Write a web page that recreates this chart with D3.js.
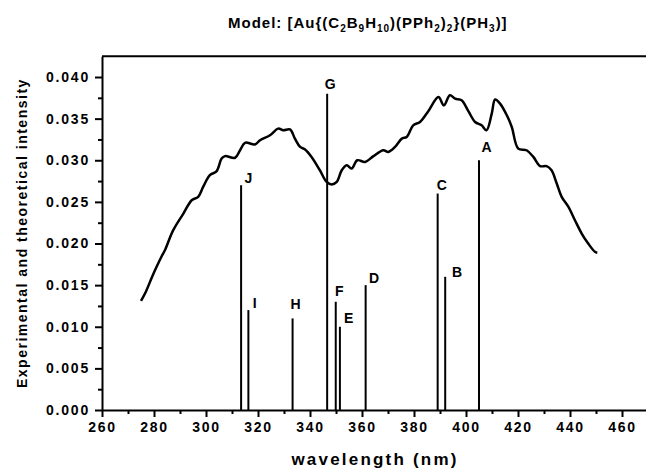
<!DOCTYPE html>
<html>
<head>
<style type="text/css">
body { margin: 0; background: #fff; }
svg text { font-family: "Liberation Sans", Arial, sans-serif; font-weight: bold; fill: #000; }
.axis path, .axis line { stroke: #000; stroke-width: 2; }
.tick text { font-size: 14px; letter-spacing: 1.8px; }
.curve { fill: none; stroke: #000; stroke-width: 2.5; stroke-linejoin: round; }
.bar { stroke: #000; stroke-width: 2; }
</style>
<script src="https://d3js.org/d3.v7.min.js"></script>
</head>
<body>
<script type="text/javascript">
// experimental spectrum
var curveWl  = [275.0, 277.0, 279.0, 281.0, 283.0, 284.2, 287.4, 291.3, 294.5, 297.0, 298.9, 301.5, 304.1, 306.0, 307.3, 311.2, 313.1, 315.0, 318.8, 320.8, 324.6, 327.8, 329.7, 332.3, 334.2, 336.2, 338.1, 340.6, 343.8, 346.4, 348.3, 350.3, 352.2, 354.1, 356.0, 358.2, 361.2, 364.4, 368.2, 370.1, 372.7, 375.3, 377.2, 379.7, 382.3, 385.5, 389.4, 391.5, 393.8, 395.8, 398.3, 400.9, 403.5, 406.0, 407.9, 409.9, 411.2, 413.1, 415.7, 417.6, 420.1, 423.3, 425.9, 428.5, 431.0, 432.9, 434.9, 436.8, 439.4, 441.9, 444.5, 447.0, 449.6, 450.5];
var curveVal = [0.0131, 0.0143, 0.0158, 0.0172, 0.0185, 0.0192, 0.0216, 0.0236, 0.0252, 0.0256, 0.0268, 0.0282, 0.0287, 0.0302, 0.0305, 0.0303, 0.0312, 0.0321, 0.0319, 0.0324, 0.0330, 0.0338, 0.0336, 0.0337, 0.0326, 0.0316, 0.0313, 0.0304, 0.0288, 0.0274, 0.0271, 0.0274, 0.0288, 0.0294, 0.0290, 0.0300, 0.0298, 0.0305, 0.0312, 0.0310, 0.0316, 0.0326, 0.0328, 0.0342, 0.0346, 0.0359, 0.0376, 0.0366, 0.0378, 0.0374, 0.0372, 0.0359, 0.0346, 0.0342, 0.0336, 0.0356, 0.0373, 0.0368, 0.0354, 0.0340, 0.0314, 0.0312, 0.0304, 0.0293, 0.0293, 0.0288, 0.0272, 0.0256, 0.0244, 0.0228, 0.0212, 0.0200, 0.0190, 0.0189];

// theoretical transitions
var barNames = ["J", "I", "H", "G", "F", "E", "D", "C", "B", "A"];
var barWl    = [313.5, 316.3, 333.3, 346.6, 349.9, 351.5, 361.4, 389.1, 392.0, 405.0];
var barVal   = [0.027, 0.012, 0.011, 0.038, 0.013, 0.010, 0.015, 0.026, 0.016, 0.030];
// small label nudges [dx, dy] relative to bar top
var labelNudge = [[3.5,-2],[4.4,-2],[-2,-9],[-2.3,-5],[-0.7,-5.7],[4,-3.4],[3.3,-2.3],[-1,-4],[6.7,0],[2.4,-8]];

var xTicks = [260, 280, 300, 320, 340, 360, 380, 400, 420, 440, 460];
var xMinor = [270, 290, 310, 330, 350, 370, 390, 410, 430, 450];
var yTicks = [0, 0.005, 0.010, 0.015, 0.020, 0.025, 0.030, 0.035, 0.040];
var yMinor = [0.0025, 0.0075, 0.0125, 0.0175, 0.0225, 0.0275, 0.0325, 0.0375];

var width = 646, height = 473;
var mLeft = 102, mRight = 648, mTop = 56.2, mBottom = 410;

var svg = d3.select("body").append("svg").attr("width", width).attr("height", height);

var x = d3.scaleLinear().domain([260, 470]).range([mLeft, mRight]);
var y = d3.scaleLinear().domain([0, 0.0425]).range([mBottom, mTop]);

// frame top
svg.append("line").attr("x1", mLeft).attr("x2", mRight).attr("y1", y(0.0425)).attr("y2", y(0.0425))
	.attr("stroke", "#000").attr("stroke-width", 2);

// bars
svg.selectAll(".bar").data(barWl).enter().append("line")
	.attr("class", "bar")
	.attr("x1", function(d){ return x(d); }).attr("x2", function(d){ return x(d); })
	.attr("y1", y(0)).attr("y2", function(d,i){ return y(barVal[i]); })
	.attr("stroke-width", function(d,i){ return barNames[i] == "G" ? 1.6 : 2; });

svg.selectAll(".blabel").data(barNames).enter().append("text")
	.attr("class", "blabel")
	.attr("x", function(d,i){ return x(barWl[i]) + labelNudge[i][0]; })
	.attr("y", function(d,i){ return y(barVal[i]) + labelNudge[i][1]; })
	.style("font-size", "14px")
	.text(function(d){ return d; });

// curve
var pts = curveWl.map(function(w,i){ return [w, curveVal[i]]; });
var line = d3.line().curve(d3.curveCatmullRom.alpha(0.5))
	.x(function(d){ return x(d[0]); })
	.y(function(d){ return y(d[1]); });
svg.append("path").datum(pts).attr("class", "curve").attr("d", line);

// axes
svg.append("g").attr("class", "axis").attr("transform", "translate(0," + mBottom + ")")
	.call(d3.axisBottom(x).tickValues(xMinor).tickSize(4).tickFormat(""))
	.select(".domain").remove();
svg.append("g").attr("class", "axis").attr("transform", "translate(0," + mBottom + ")")
	.call(d3.axisBottom(x).tickValues(xTicks).tickSize(7).tickSizeOuter(0).tickPadding(5).tickFormat(d3.format("d")));
svg.append("g").attr("class", "axis").attr("transform", "translate(" + mLeft + ",0)")
	.call(d3.axisLeft(y).tickValues(yMinor).tickSize(4).tickFormat(""))
	.select(".domain").remove();
svg.append("g").attr("class", "axis").attr("transform", "translate(" + mLeft + ",0)")
	.call(d3.axisLeft(y).tickValues(yTicks).tickSize(7).tickSizeOuter(0).tickPadding(5).tickFormat(d3.format(".3f")));

// axis titles
svg.append("text").attr("x", (mLeft + mRight) / 2).attr("y", 465)
	.attr("text-anchor", "middle").style("font-size", "17px").style("letter-spacing", "2.2px")
	.text("wavelength (nm)");
svg.append("text").attr("transform", "translate(27," + ((mTop + mBottom) / 2) + ") rotate(-90)")
	.attr("text-anchor", "middle").style("font-size", "14px").style("letter-spacing", "1.5px")
	.text("Experimental and theoretical intensity");

// title with subscripts
var title = svg.append("text").attr("x", 228).attr("y", 28)
	.style("font-size", "15px").style("letter-spacing", "1px");
var parts = [["Model: [Au{(C",0],["2",1],["B",0],["9",1],["H",0],["10",1],[")(PPh",0],["2",1],[")",0],["2",1],["}(PH",0],["3",1],[")]",0]];
var prevSub = 0;
parts.forEach(function(p){
	var dy = (p[1] - prevSub) * 4;
	prevSub = p[1];
	title.append("tspan")
		.attr("dy", dy)
		.style("font-size", p[1] ? "10px" : "15px")
		.text(p[0]);
});
</script>
</body>
</html>
